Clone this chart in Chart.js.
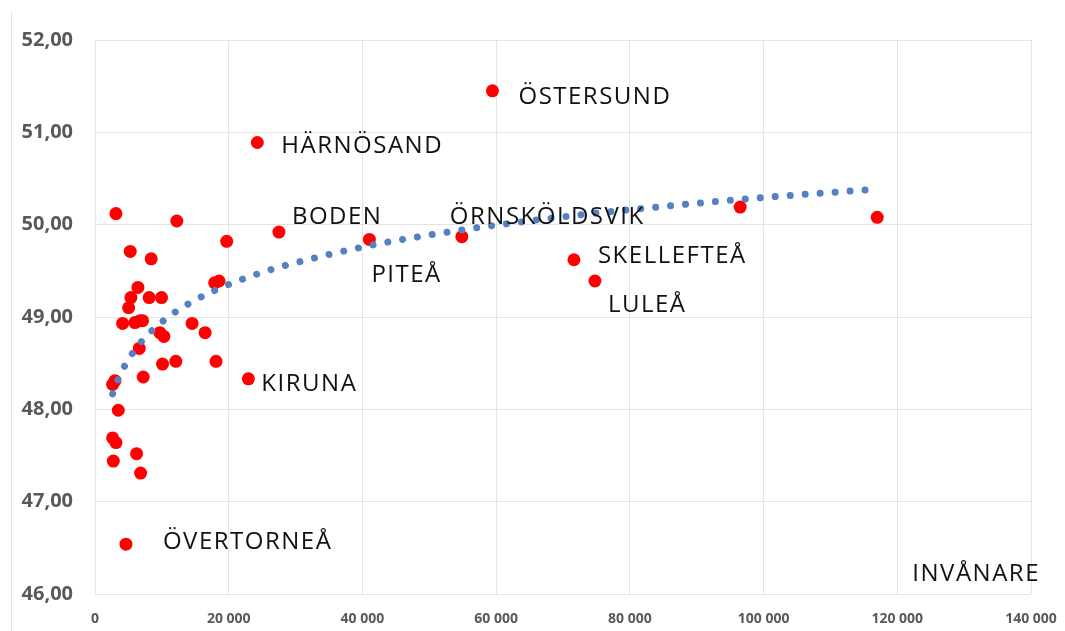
<!DOCTYPE html>
<html>
<head>
<meta charset="utf-8">
<script src="https://cdn.jsdelivr.net/npm/chart.js@4"></script>
<style>
  html, body { margin: 0; padding: 0; background: #fff; }
  #wrap { width: 1065px; height: 631px; position: relative; }
</style>
</head>
<body>
<div id="wrap"><canvas id="chart1"></canvas></div>
<script>
// Population (invånare) per municipality
const populations = [
    3130, 12240, 19700, 5270, 8400, 6420, 17900, 18550, 5370, 8100,
    9950, 5030, 4130, 5970, 6720, 7110, 14520, 16470, 9700, 10300,
    6620, 10100, 12090, 18100, 7210, 2640, 2990, 22940, 3480, 2640,
    3130, 2740, 6220, 6820, 4630, 24280, 27510, 41040, 59450, 54870,
    71640, 74780, 96500, 117000
];

// Value on the y axis
const values = [
    50.12, 50.04, 49.82, 49.71, 49.63, 49.32, 49.37, 49.39, 49.21, 49.21,
    49.21, 49.10, 48.93, 48.94, 48.96, 48.96, 48.93, 48.83, 48.83, 48.79,
    48.66, 48.49, 48.52, 48.52, 48.35, 48.27, 48.31, 48.33, 47.99, 47.69,
    47.64, 47.44, 47.52, 47.31, 46.54, 50.89, 49.92, 49.84, 51.45, 49.87,
    49.62, 49.39, 50.19, 50.08
];

// Names shown next to some of the points
const names = [
    '', '', '', '', '', '', '', '', '', '',
    '', '', '', '', '', '', '', '', '', '',
    '', '', '', '', '', '', '', 'KIRUNA', '', '',
    '', '', '', '', 'ÖVERTORNEÅ', 'HÄRNÖSAND', 'BODEN', 'PITEÅ', 'ÖSTERSUND', 'ÖRNSKÖLDSVIK',
    'SKELLEFTEÅ', 'LULEÅ', '', ''
];

const xTicks = [0, 20000, 40000, 60000, 80000, 100000, 120000, 140000];
const yTicks = [46, 47, 48, 49, 50, 51, 52];
const xTitle = 'INVÅNARE';

// where each name sits relative to its point (pixels)
const labelOffsets = {
    'ÖSTERSUND': [26, 6],
    'HÄRNÖSAND': [24, 4],
    'BODEN': [13, -15],
    'PITEÅ': [2, 36],
    'ÖRNSKÖLDSVIK': [-12, -20],
    'SKELLEFTEÅ': [24, -4],
    'LULEÅ': [13, 24],
    'KIRUNA': [13, 5],
    'ÖVERTORNEÅ': [37, -2]
};

const points = populations.map((p, i) => ({ x: p, y: values[i] }));

// Logarithmic trendline (least squares on ln x), evaluated at the data's own x values
const n = populations.length;
const lx = populations.map(p => Math.log(p));
const mx = lx.reduce((a, b) => a + b, 0) / n;
const my = values.reduce((a, b) => a + b, 0) / n;
let sxy = 0, sxx = 0;
for (let i = 0; i < n; i++) {
    sxy += (lx[i] - mx) * (values[i] - my);
    sxx += (lx[i] - mx) * (lx[i] - mx);
}
const slope = sxy / sxx;
const intercept = my - slope * mx;
const trendX = [...new Set(populations)].sort((a, b) => a - b);
const trend = trendX.map(p => ({ x: p, y: intercept + slope * Math.log(p) }));

const labelPlugin = {
    id: 'pointNames',
    beforeDraw(chart) {
        const ctx = chart.ctx;
        ctx.save();
        ctx.strokeStyle = '#e4e4e4';
        ctx.lineWidth = 1;
        ctx.beginPath();
        ctx.moveTo(11.5, 12);
        ctx.lineTo(11.5, 631);
        ctx.stroke();
        ctx.restore();
    },
    afterDatasetsDraw(chart) {
        const ctx = chart.ctx;
        const xs = chart.scales.x, ys = chart.scales.y;
        ctx.save();
        ctx.font = '24px "Open Sans"';
        ctx.letterSpacing = '1.5px';
        ctx.fillStyle = '#111';
        ctx.textBaseline = 'middle';
        ctx.textAlign = 'left';
        names.forEach((name, i) => {
            if (!name) return;
            const off = labelOffsets[name] || [12, 0];
            ctx.fillText(name, xs.getPixelForValue(populations[i]) + off[0], ys.getPixelForValue(values[i]) + off[1]);
        });
        ctx.textAlign = 'right';
        ctx.fillText(xTitle, chart.chartArea.right + 9, chart.chartArea.bottom - 20);
        ctx.restore();
    }
};

const ctx1 = document.getElementById('chart1').getContext('2d');
const chart1 = new Chart(ctx1, {
    type: 'scatter',
    data: {
        datasets: [{
            type: 'line',
            label: 'Trend',
            data: trend,
            borderColor: '#5581c3',
            borderWidth: 7,
            borderDash: [0.01, 15],
            borderCapStyle: 'round',
            cubicInterpolationMode: 'monotone',
            pointRadius: 0,
            fill: false
        }, {
            label: 'Kommuner',
            data: points,
            backgroundColor: '#ff0000',
            borderColor: '#ff0000',
            borderWidth: 0,
            pointRadius: 6.5
        }]
    },
    options: {
        responsive: true,
        maintainAspectRatio: false,
        animation: false,
        layout: { padding: { top: 40, right: 34, left: 0, bottom: 0 } },
        plugins: {
            legend: { display: false },
            tooltip: { enabled: false }
        },
        scales: {
            x: {
                type: 'linear',
                min: 0,
                max: 140000,
                afterBuildTicks: s => { s.ticks = xTicks.map(v => ({ value: v })); },
                afterFit: s => { s.height = 37; s.paddingRight = 0; s.paddingLeft = 0; },
                grid: { color: '#e3e3e3', drawTicks: false },
                border: { display: false },
                ticks: {
                    padding: 17,
                    color: '#595959',
                    font: { family: '"Open Sans"', size: 14, weight: 'bold' },
                    callback: v => String(v).replace(/\B(?=(\d{3})+(?!\d))/g, ' ')
                }
            },
            y: {
                min: 46,
                max: 52,
                afterBuildTicks: s => { s.ticks = yTicks.map(v => ({ value: v })); },
                afterFit: s => { s.width = 95; },
                grid: { color: '#e3e3e3', drawTicks: false },
                border: { display: false },
                ticks: {
                    padding: 22,
                    color: '#595959',
                    font: { family: '"Open Sans"', size: 20, weight: 'bold' },
                    callback: v => v.toFixed(2).replace('.', ',')
                }
            }
        }
    },
    plugins: [labelPlugin]
});
</script>
</body>
</html>
